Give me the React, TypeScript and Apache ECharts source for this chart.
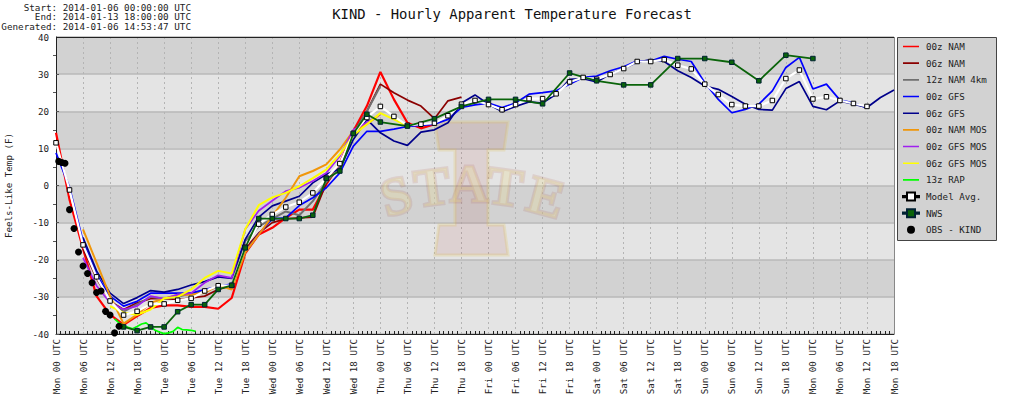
import React, { useEffect, useRef } from "react";
import * as echarts from "echarts";

const FONT = "'DejaVu Sans Mono', monospace";

const metaLines = [
  "Start: 2014-01-06 00:00:00 UTC",
  "End: 2014-01-13 18:00:00 UTC",
  "Generated: 2014-01-06 14:53:47 UTC",
];
const chartTitle = "KIND - Hourly Apparent Temperature Forecast";
const yTitle = "Feels-Like Temp (F)";
const tickLabels = [
  "Mon 00 UTC","Mon 06 UTC","Mon 12 UTC","Mon 18 UTC",
  "Tue 00 UTC","Tue 06 UTC","Tue 12 UTC","Tue 18 UTC",
  "Wed 00 UTC","Wed 06 UTC","Wed 12 UTC","Wed 18 UTC",
  "Thu 00 UTC","Thu 06 UTC","Thu 12 UTC","Thu 18 UTC",
  "Fri 00 UTC","Fri 06 UTC","Fri 12 UTC","Fri 18 UTC",
  "Sat 00 UTC","Sat 06 UTC","Sat 12 UTC","Sat 18 UTC",
  "Sun 00 UTC","Sun 06 UTC","Sun 12 UTC","Sun 18 UTC",
  "Mon 00 UTC","Mon 06 UTC","Mon 12 UTC","Mon 18 UTC",
];

// 3-hourly series: first hour, then values
const nam00Start = 0;
const nam00 = [14.2,-3.8,-17,-29.8,-34.8,-37.5,-35.2,-33,-32.3,-32.3,-32.7,-32.7,-33.2,-30.3,-18.3,-13.2,-11.4,-8.7,-6.5,-6.5,0.3,6,14.7,21.4,30.6,23.2,16.9,15.4,16.5];
const nam06Start = 6;
const nam06 = [-17,-25,-31.2,-33.4,-31.6,-30.5,-30.5,-30.7,-30.3,-29.8,-28,-27,-17,-12.8,-10,-9,-8.7,-8.5,0.7,5,14.2,20,27.3,25,23,21.4,18,22.8,23.8];
const nam4kStart = 12;
const nam4k = [-31,-34,-32,-30,-30.5,-30,-29,-28.5,-27.2,-27,-15,-11,-9,-7,-8,-4.2,1,5,14,20,26.8];
const gfs00Start = 0;
const gfs00 = [8.8,-0.5,-15,-24,-29.8,-32.5,-31.2,-29,-29,-29,-29,-28,-27.3,-26.5,-18,-13,-9,-8.7,-5.4,-3.3,-0.6,3.4,10.6,14.6,14.6,15.2,15.9,16.2,16.5,17.8,21,21.7,22.2,21,22.2,24.6,25,25.5,27.3,29.1,29.5,30.9,32,33.6,33.5,34.8,34,33.4,27.7,23.2,19.6,20.5,21.9,25.5,31.8,34.5,26,27.3,23,22.3,20.9];
const gfs06Start = 6;
const gfs06 = [-14,-23,-29,-31.8,-30.2,-28.3,-28.7,-28,-26.8,-25.9,-24.6,-25,-14.5,-8.5,-5.5,-4.2,-2.9,0.7,3,4.5,12.4,17.8,14.2,12,10.8,14.4,15,16.9,22.2,24.4,21.9,19.9,21.3,22.5,22.2,24.6,28.6,28.8,27.9,30,31.5,33.2,33.9,33.4,30.9,29.1,26.8,25.9,24,21.9,20.5,20.3,26.1,28,21.3,20.4,22.8,21.9,21,23.7,25.7];
const namMosStart = 6;
const namMos = [-11.8,-20.8,-29.8,-37.2,-34.8,-31.6,-30.5,-29.4,-29.4,-28.9,-26.9,-28,-18,-13.2,-8.3,-3.3,2.5,3.9,5.7,9.7,14.7,16.5,19.2];
const gfsMosStart = 6;
const gfsMos = [-19.5,-27,-31.6,-33.4,-32.5,-29.8,-30.5,-29.4,-29,-26.2,-24.2,-24.9,-11.8,-6.8,-4.1,-1.5,-0.6,1.2,3.4,7.9,15,17,19.2];
const gfs06MosStart = 12;
const gfs06Mos = [-32.5,-34.3,-34.8,-33.4,-30.4,-30,-28,-24.9,-23,-23.7,-11.8,-5.3,-3.2,-2,-0.2,2,4.3,8.4,13.5,16.5,19.5,17.8,16];
const avgStart = 0;
const modelAvg = [11.5,-1.2,-16,-24.6,-31.1,-34.9,-33.9,-31.9,-31.9,-30.9,-30.4,-28.4,-27,-26.9,-16.6,-10.4,-7.8,-5.8,-4.5,-2,2,5.9,14.05,18.3,21.3,18.6,16.2,16.5,16.8,18.8,21.9,22.9,21.8,20.4,21.8,23.4,23.4,24.7,27.9,29.1,28.6,29.9,31.5,33.4,33.4,33.9,32.4,31.4,27.3,24.5,21.8,21.4,21.4,22.9,28.8,31.1,23.3,23.9,22.9,22.1,21.3];
// hourly RAP
const rapStart = 13;
const rap = [-35.9,-37,-37.7,-38.2,-38.6,-38,-37.3,-37,-38,-39,-39.5,-39.9,-39.7,-39.3,-38.2,-38.8,-38.9,-39,-39.3];
// irregular series
const nwsHours = [15,18,21,24,27,30,33,36,39,42,45,48,51,54,57,60,63,66,69,72,78,84,90,96,102,108,114,120,126,132,138,144,150,156,162,168];
const nws = [-38.1,-39.1,-38.1,-38.1,-34,-32.1,-32.1,-28,-26.9,-16.8,-8.9,-8.9,-8.9,-8.9,-8,1.9,3.9,14,19.2,17.1,16,18,21.3,23.2,23.2,22,30.3,28.2,27.1,27.1,34.2,34.2,33.2,28.2,35.1,34.2];
const obsHours = [0.6,1.3,2,3,4,5,6,7,8,9,10,11,12,13,14];
const obs = [6.5,6.2,6,-6.5,-11.6,-17.9,-21.7,-23.7,-26.2,-28.8,-28.4,-33.9,-34.9,-39.7,-37.9];

function steps(start: number, vals: number[], step = 3) {
  return vals.map((v, i) => [start + i * step, v]);
}
const zip = (hs: number[], vs: number[]) => hs.map((h, i) => [h, vs[i]]);

function line(name: string, color: string, data: number[][], width = 1.7) {
  return {
    name, type: "line", data, showSymbol: false, symbol: "none", clip: false,
    lineStyle: { color, width }, itemStyle: { color },
    silent: true,
  };
}

// legend keys
const ICON_LINE = "path://M0 5.2H16V6.8H0Z M0 0H0.01V0.01H0Z M0 12H0.01V11.99H0Z";
const ICON_SQUARE = "path://M0 3.4H4V0H12V3.4H16V4.6H12V8H4V4.6H0Z";
const ICON_DOT = "path://M8 2A4 4 0 1 1 8 10A4 4 0 1 1 8 2Z M0 0H0.01V0.01H0Z M16 12H16.01V11.99H16Z";
const lineNames = ["00z NAM","06z NAM","12z NAM 4km","00z GFS","06z GFS","00z NAM MOS","00z GFS MOS","06z GFS MOS","13z RAP"];

function buildOption() {
  const letters = [
    { t: "S", x: 396, y: 196, r: 0.26 },
    { t: "T", x: 432, y: 187, r: 0.13 },
    { t: "A", x: 469, y: 184, r: 0 },
    { t: "T", x: 505, y: 187, r: -0.13 },
    { t: "E", x: 546, y: 197, r: -0.26 },
  ];
  const wm: any[] = [
    {
      type: "polygon", z: 1, silent: true,
      shape: { points: [[435,122],[508,122],[504,150],[488,150],[488,225],[504,225],[508,255],[435,255],[439,225],[455,225],[455,150],[439,150]] },
      style: { fill: "rgba(170,50,50,0.10)", stroke: "rgba(225,195,90,0.25)", lineWidth: 3 },
    },
    ...letters.map((l) => ({
      type: "text", z: 1, silent: true, x: l.x, y: l.y, rotation: l.r,
      style: {
        text: l.t, x: 0, y: 0, align: "center", verticalAlign: "middle",
        font: "bold 54px 'Liberation Serif', serif",
        fill: "rgba(235,220,140,0.28)", stroke: "rgba(170,70,50,0.13)", lineWidth: 3,
      },
    })),
  ];
  return {
    animation: false,
    backgroundColor: "#ffffff",
    textStyle: { fontFamily: FONT },
    title: {
      text: chartTitle, left: 507, top: 2, textAlign: "center",
      textStyle: { fontFamily: FONT, fontSize: 13.9, fontWeight: "normal", color: "#111" },
    },
    grid: { left: 56, top: 37, width: 838, height: 297, containLabel: false, outerBoundsMode: "none" },
    legend: {
      left: 898, top: 38, orient: "vertical", padding: [2.5, 4, 2, 4],
      itemWidth: 16, itemHeight: 12, itemGap: 4.67,
      textStyle: { fontFamily: FONT, fontSize: 9.2, lineHeight: 12, color: "#222", padding: [0, 0, 0, 2] },
      data: [
        ...lineNames.map((name) => ({ name, icon: ICON_LINE })),
        { name: "Model Avg.", icon: ICON_SQUARE },
        { name: "NWS", icon: ICON_SQUARE },
        { name: "OBS - KIND", icon: ICON_DOT },
      ],
    },
    xAxis: {
      type: "value", min: 0, max: 186, interval: 6,
      axisLine: { show: true, lineStyle: { color: "#222", width: 1 }, onZero: false },
      axisTick: { show: false },
      minorTick: { show: true, splitNumber: 6, length: -3, lineStyle: { color: "#222" } },
      axisLabel: {
        rotate: 90, margin: 5, fontFamily: FONT, fontSize: 9.2, color: "#222",
        hideOverlap: false, showMinLabel: true, showMaxLabel: true,
        formatter: (v: number) => tickLabels[Math.round(v / 6)] ?? "",
      },
      splitLine: { show: true, lineStyle: { color: "#b4b4b4", type: [2, 3], width: 1 } },
    },
    yAxis: {
      type: "value", min: -40, max: 40, interval: 10,
      name: yTitle, nameLocation: "middle", nameRotate: 90, nameGap: 43,
      nameTextStyle: { fontFamily: FONT, fontSize: 9.2, color: "#222" },
      axisLine: { show: true, lineStyle: { color: "#222", width: 1 }, onZero: false },
      axisTick: { show: true, inside: true, length: 3, lineStyle: { color: "#555" } },
      minorTick: { show: true, splitNumber: 2, length: -3, lineStyle: { color: "#555" } },
      axisLabel: { margin: 7, fontFamily: FONT, fontSize: 9.2, color: "#222" },
      splitLine: { show: true, lineStyle: { color: "#b8b8b8", width: 1.5 } },
      splitArea: { show: true, areaStyle: { color: ["#e4e4e4", "#d2d2d2"] } },
    },
    graphic: [
      ...wm,
      { type: "line", z: 3, silent: true, shape: { x1: 56, y1: 37.5, x2: 894, y2: 37.5 }, style: { stroke: "#222", lineWidth: 1 } },
      { type: "line", z: 3, silent: true, shape: { x1: 894.5, y1: 37, x2: 894.5, y2: 334 }, style: { stroke: "#888", lineWidth: 1 } },
      { type: "rect", z: 1, silent: true, shape: { x: 897.5, y: 37.5, width: 99, height: 203 }, style: { fill: "#d2d2d2", stroke: "#444", lineWidth: 1 } },
      ...metaLines.map((t, i) => ({
        type: "text", silent: true, x: 191, y: 7.5 + i * 9.4,
        style: { text: t, align: "right", verticalAlign: "middle", font: `9.27px ${FONT}`, fill: "#222" },
      })),
    ],
    series: [
      line("00z NAM", "#ff0000", steps(nam00Start, nam00), 2.2),
      line("06z NAM", "#8b0000", steps(nam06Start, nam06)),
      line("12z NAM 4km", "#707070", steps(nam4kStart, nam4k), 2),
      line("00z GFS", "#0000ff", steps(gfs00Start, gfs00)),
      line("06z GFS", "#00008b", steps(gfs06Start, gfs06)),
      line("00z NAM MOS", "#f0960a", steps(namMosStart, namMos), 2),
      line("00z GFS MOS", "#a020f0", steps(gfsMosStart, gfsMos)),
      line("06z GFS MOS", "#ffff00", steps(gfs06MosStart, gfs06Mos), 2),
      line("13z RAP", "#00ff00", steps(rapStart, rap, 1)),
      {
        name: "Model Avg.", type: "line", data: steps(avgStart, modelAvg), clip: false, silent: true,
        symbol: "rect", symbolSize: 4.5, showAllSymbol: true,
        lineStyle: { color: "#ffffff", width: 2.2 },
        itemStyle: { color: "#ffffff", borderColor: "#000", borderWidth: 1 },
      },
      {
        name: "NWS", type: "line", data: zip(nwsHours, nws), clip: false, silent: true,
        symbol: "rect", symbolSize: 4.5, showAllSymbol: true,
        lineStyle: { color: "#0a640a", width: 1.8 },
        itemStyle: { color: "#0a640a", borderColor: "#023", borderWidth: 1 },
      },
      {
        name: "OBS - KIND", type: "line", data: zip(obsHours, obs), clip: false, silent: true,
        symbol: "circle", symbolSize: 7, showAllSymbol: true,
        lineStyle: { width: 0, opacity: 0 },
        itemStyle: { color: "#000" },
      },
    ],
  };
}

export default function App() {
  const ref = useRef<HTMLDivElement>(null);
  useEffect(() => {
    const chart = echarts.init(ref.current!, undefined, { renderer: "svg" });
    chart.setOption(buildOption() as any);
    return () => chart.dispose();
  }, []);
  return <div ref={ref} style={{ position: "absolute", left: 0, top: 0, width: 1024, height: 418 }} />;
}
